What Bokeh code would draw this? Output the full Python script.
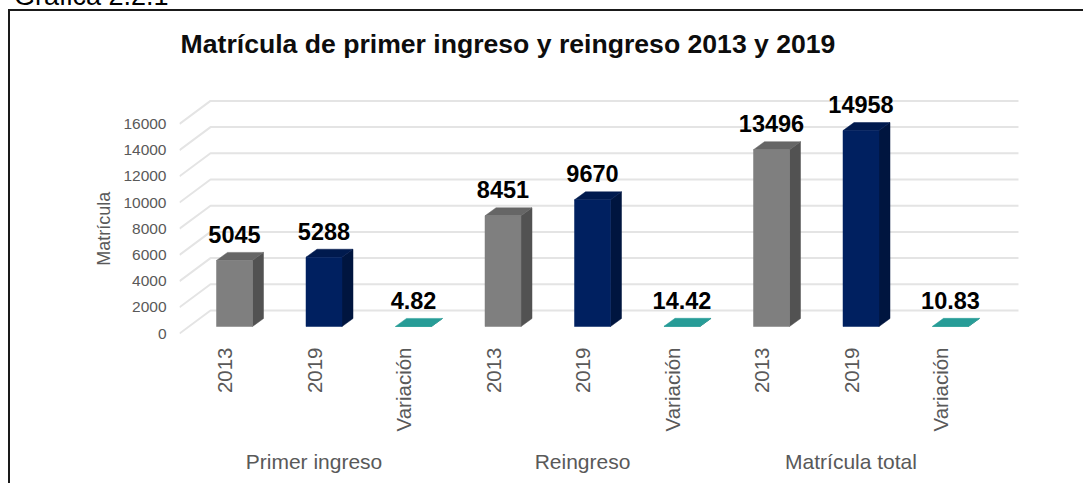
import math
from bokeh.plotting import figure
from bokeh.models import Range1d, LinearAxis, FixedTicker, Label, Div
from bokeh.embed import file_html
from bokeh.resources import INLINE
from bokeh.core.properties import value

# ---------------- data ----------------
groups = ["Primer ingreso", "Reingreso", "Matrícula total"]
series = ["2013", "2019", "Variación"]
primer_ingreso = [5045, 5288, 4.82]
reingreso = [8451, 9670, 14.42]
matricula_total = [13496, 14958, 10.83]
group_values = [primer_ingreso, reingreso, matricula_total]
y_ticks = [0, 2000, 4000, 6000, 8000, 10000, 12000, 14000, 16000]
title_text = "Matrícula de primer ingreso y reingreso 2013 y 2019"
caption_text = "Gráfica 2.2.1"
y_title = "Matrícula"

# ---------------- style / layout ----------------
FONT = "Liberation Sans"
face_colors = {
    "2013": ("#7f7f7f", "#525252", "#666666"),
    "2019": ("#002060", "#00153f", "#001a4e"),
    "Variación": ("#279c97", "#1e7d79", "#279c97"),
}
OX, OY = 10, 11            # page position of canvas (margin + border)
W, H = 1075, 474
BAR_X0 = 234               # page x of first bar centre (bar plane)
STEP = 89.5                # px per category
BASE_Y = 326               # page y of value 0 (bar plane)
PY = 13.1 / 1000           # px per unit
FRAME_L, FRAME_B = 179, 336
FRAME_R, FRAME_T = OX + W, OY
HW = 18                    # half bar width px
SDX, SDY = 11, 8           # bar depth px
FRONT_DX, FRONT_DY = -10, -7
WALL_DX, WALL_DY = 31, 23  # front-left corner to back wall
GRID_END = 1018
TEXT_LIFT = 9              # baseline correction px


def px_x(page_x):
    return (page_x - BAR_X0) / STEP


def px_y(page_y):
    return (BASE_Y - page_y) / PY


def dx(px):
    return px / STEP


def dy(px):
    return px / PY


x_range = Range1d(px_x(FRAME_L), px_x(FRAME_R))
y_range = Range1d(px_y(FRAME_B), px_y(FRAME_T))

p = figure(width=W, height=H, x_range=x_range, y_range=y_range,
           x_axis_type=None, y_axis_type=None, title=None,
           output_backend="svg", toolbar_location=None,
           min_border_left=FRAME_L - OX, min_border_right=0,
           min_border_top=0, min_border_bottom=OY + H - FRAME_B,
           background_fill_color="white", border_fill_color="white",
           styles={"margin-left": "8px", "margin-top": "9px",
                   "border-left": "2px solid #1a1a1a", "border-top": "2px solid #1a1a1a"})
p.outline_line_color = None
p.xgrid.visible = False
p.ygrid.visible = False

# front plane ranges for the axes
p.extra_x_ranges = {"front": Range1d(x_range.start - dx(FRONT_DX), x_range.end - dx(FRONT_DX))}
p.extra_y_ranges = {"front": Range1d(y_range.start - dy(FRONT_DY), y_range.end - dy(FRONT_DY))}

# ---------------- 3D gridlines ----------------
wall_x = px_x(FRAME_L)
grid_xs, grid_ys = [], []
for t in y_ticks:
    yf = t + dy(FRONT_DY)
    yb = yf + dy(WALL_DY)
    grid_xs.append([wall_x, wall_x + dx(WALL_DX), px_x(GRID_END)])
    grid_ys.append([yf, yb, yb])
p.multi_line(grid_xs, grid_ys, line_color="#e4e4e4", line_width=2)

# ---------------- bars ----------------
fx_l, fx_r, fb, ft, fcol = [], [], [], [], []
side_xs, side_ys, side_col = [], [], []
top_xs, top_ys, top_col = [], [], []
lab_x, lab_y, lab_t = [], [], []
for gi, vals in enumerate(group_values):
    for si, s in enumerate(series):
        idx = gi * len(series) + si
        v = vals[si]
        l, r = idx - dx(HW), idx + dx(HW)
        cf, cs, ct = face_colors[s]
        fx_l.append(l); fx_r.append(r); fb.append(0); ft.append(v); fcol.append(cf)
        side_xs.append([r, r + dx(SDX), r + dx(SDX), r])
        side_ys.append([0, dy(SDY), v + dy(SDY), v])
        side_col.append(cs)
        top_xs.append([l, r, r + dx(SDX), l + dx(SDX)])
        top_ys.append([v, v, v + dy(SDY), v + dy(SDY)])
        top_col.append(ct)
        lab_x.append(idx)
        lab_y.append(v + dy(SDY + 9 + TEXT_LIFT))
        lab_t.append(f"{v:g}")

p.patches(side_xs, side_ys, fill_color=side_col, line_color=side_col, line_width=0.5)
p.patches(top_xs, top_ys, fill_color=top_col, line_color=top_col, line_width=0.5)
p.quad(left=fx_l, right=fx_r, bottom=fb, top=ft, fill_color=fcol, line_color=fcol, line_width=0.5)

p.text(x=lab_x, y=lab_y, text=lab_t, text_align="center", text_baseline="alphabetic",
       text_font=value(FONT), text_font_style="bold", text_font_size="23.5px", text_color="#000000")


def plain_axis(ax, standoff, size):
    ax.axis_line_color = None
    ax.major_tick_line_color = None
    ax.minor_tick_line_color = None
    ax.major_tick_in = 0
    ax.major_tick_out = 0
    ax.major_label_standoff = standoff
    ax.major_label_text_font = FONT
    ax.major_label_text_font_size = size
    ax.major_label_text_color = "#595959"


# ---------------- axes ----------------
yax = LinearAxis(y_range_name="front", ticker=FixedTicker(ticks=y_ticks))
plain_axis(yax, 13, "15.5px")
p.add_layout(yax, "left")

# axis title as a second (outer) left axis with a single labelled position
ytitle_pos = (y_ticks[0] + y_ticks[-1]) / 2
ytax = LinearAxis(y_range_name="front", ticker=FixedTicker(ticks=[ytitle_pos]),
                  major_label_overrides={ytitle_pos: y_title})
plain_axis(ytax, 6, "18px")
ytax.major_label_orientation = "parallel"
p.add_layout(ytax, "left")

cats = [s for g in groups for s in series]
xax = LinearAxis(x_range_name="front", ticker=FixedTicker(ticks=list(range(len(cats)))),
                 major_label_overrides={i: c for i, c in enumerate(cats)})
plain_axis(xax, 11, "20.5px")
xax.major_label_orientation = math.pi / 2
p.add_layout(xax, "below")

# group labels as a second (outer) category axis
gpos = [gi * len(series) + (len(series) - 1) / 2 for gi in range(len(groups))]
gax = LinearAxis(x_range_name="front", ticker=FixedTicker(ticks=gpos),
                 major_label_overrides={g: t for g, t in zip(gpos, groups)})
plain_axis(gax, 15, "21px")
gax.major_label_orientation = "horizontal"
p.add_layout(gax, "below")

# chart title (inside the frame)
p.add_layout(Label(x=px_x(507.5), y=px_y(52 - TEXT_LIFT), text=title_text,
                   text_align="center", text_baseline="alphabetic",
                   text_font=FONT, text_font_style="bold", text_font_size="26.6px",
                   text_color="#0d0d0d"))

caption = Div(text=caption_text, width=300, height=27,
              styles={"position": "absolute", "left": "9px", "top": "-22px",
                      "font-family": FONT, "font-size": "27px", "line-height": "27px",
                      "color": "#000000", "white-space": "nowrap"})

open("out.html", "w").write(file_html([caption, p], INLINE))
